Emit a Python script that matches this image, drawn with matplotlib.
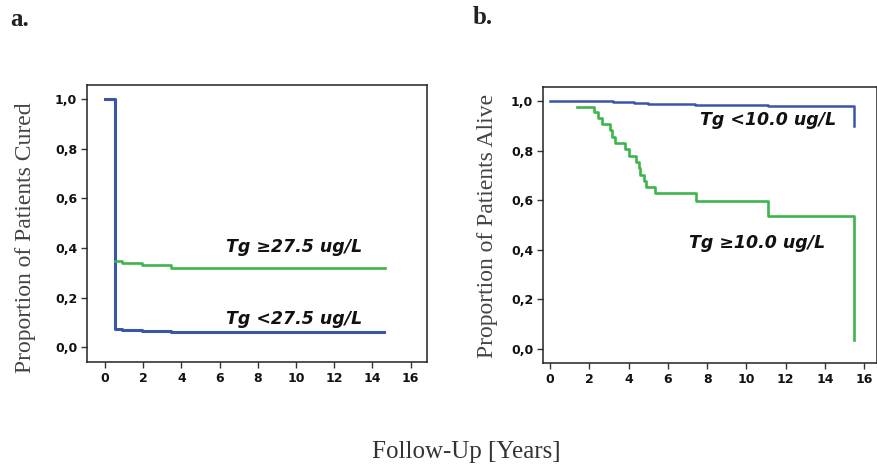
import matplotlib
matplotlib.use("Agg")
import matplotlib.pyplot as plt

# ---- data: panel a (proportion cured) ----
a_low_t = [0.0, 0.54, 0.91, 1.95, 3.44, 14.6]
a_low_s = [1.0, 0.075, 0.071, 0.067, 0.062, 0.062]
a_high_t = [0.54, 0.91, 1.95, 3.44, 14.65]
a_high_s = [0.348, 0.339, 0.332, 0.320, 0.320]

# ---- data: panel b (proportion alive) ----
b_low_t = [0.0, 2.5, 3.2, 3.8, 4.3, 5.0, 5.4, 7.4, 11.1, 15.5]
b_low_s = [1.0, 0.998, 0.996, 0.994, 0.991, 0.988, 0.986, 0.984, 0.981, 0.981]
b_low_end = 0.90
b_high_t = [1.39, 2.25, 2.42, 2.67, 3.06, 3.13, 3.32, 3.83, 4.01, 4.39,
            4.51, 4.59, 4.80, 4.90, 5.37, 7.43, 11.1, 15.5]
b_high_s = [0.976, 0.956, 0.931, 0.906, 0.882, 0.856, 0.832, 0.808, 0.778, 0.754,
            0.730, 0.703, 0.679, 0.653, 0.627, 0.596, 0.538, 0.538]
b_high_end = 0.038

xticks = [0, 2, 4, 6, 8, 10, 12, 14, 16]
yticks = [0.0, 0.2, 0.4, 0.6, 0.8, 1.0]
ytick_labels = ["0,0", "0,2", "0,4", "0,6", "0,8", "1,0"]

BLUE = "#3B55A8"
GREEN = "#3DB54A"
SERIF = ["Liberation Serif", "DejaVu Serif"]
SANS = ["DejaVu Sans"]

W, H = 878, 468
fig = plt.figure(figsize=(W / 100, H / 100), dpi=100)


def px_axes(l, t, r, b):
    return fig.add_axes([l / W, 1 - b / H, (r - l) / W, (b - t) / H])


def style(ax, xlim, ylim):
    ax.set_xlim(*xlim)
    ax.set_ylim(*ylim)
    ax.set_xticks(xticks)
    ax.set_yticks(yticks)
    ax.set_yticklabels(ytick_labels)
    for lab in ax.get_xticklabels() + ax.get_yticklabels():
        lab.set_fontfamily(SANS)
        lab.set_fontweight("bold")
        lab.set_fontsize(9)
        lab.set_color("#111111")
    ax.tick_params(direction="out", length=4, width=1.0, color="#333333", pad=3)
    for sp in ax.spines.values():
        sp.set_linewidth(1.1)
        sp.set_color("#222222")


def note(ax, x, y, s):
    ax.text(x, y, s, family=SANS, fontweight="bold", style="italic",
            fontsize=12.5, ha="center", va="center", color="#111111")


# panel a
axa = px_axes(87, 85, 427, 362)
axa.step(a_low_t, a_low_s, where="post", color=BLUE, lw=2.2)
axa.step(a_high_t, a_high_s, where="post", color=GREEN, lw=1.9)
style(axa, (-0.94, 16.86), (-0.059, 1.056))
note(axa, 9.9, 0.405, "Tg \u226527.5 ug/L")
note(axa, 9.9, 0.113, "Tg <27.5 ug/L")

# panel b
axb = px_axes(543, 87, 877.5, 363)
axb.step(b_low_t + [b_low_t[-1]], b_low_s + [b_low_end], where="post", color=BLUE, lw=1.8)
axb.step(b_high_t + [b_high_t[-1]], b_high_s + [b_high_end], where="post", color=GREEN, lw=1.9)
style(axb, (-0.36, 16.68), (-0.056, 1.056))
note(axb, 11.1, 0.924, "Tg <10.0 ug/L")
note(axb, 10.55, 0.428, "Tg \u226510.0 ug/L")

# y labels
fig.text(26 / W, 1 - 238 / H, "Proportion of Patients Cured", family=SERIF,
         fontsize=17, rotation=90, ha="center", va="center", color="#444444")
fig.text(488 / W, 1 - 226 / H, "Proportion of Patients Alive", family=SERIF,
         fontsize=17, rotation=90, ha="center", va="center", color="#444444")

# panel letters and shared x label
fig.text(10 / W, 1 - 19 / H, "a.", family=SERIF, fontweight="bold", fontsize=18,
         ha="left", va="center", color="#222222")
fig.text(473 / W, 1 - 18 / H, "b.", family=SERIF, fontweight="bold", fontsize=18,
         ha="left", va="center", color="#222222")
fig.text(466 / W, 1 - 452 / H, "Follow-Up [Years]", family=SERIF, fontsize=18,
         ha="center", va="center", color="#333333")

fig.savefig("out.png", dpi=100)
